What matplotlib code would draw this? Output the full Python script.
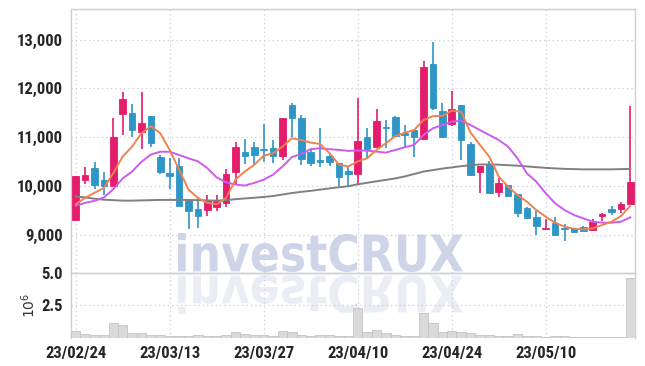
import numpy as np
import matplotlib
matplotlib.use("Agg")
import matplotlib.pyplot as plt
from matplotlib import font_manager
from matplotlib.textpath import TextPath
from matplotlib.patches import PathPatch
from matplotlib.font_manager import FontProperties
from matplotlib.transforms import Affine2D
from matplotlib.ticker import FuncFormatter

# trading days, 23/02/24 .. 23/05/23
dates = ["23/02/24", "23/02/27", "23/02/28", "23/03/02", "23/03/03", "23/03/06", "23/03/07",
         "23/03/08", "23/03/09", "23/03/10", "23/03/13", "23/03/14", "23/03/15", "23/03/16",
         "23/03/17", "23/03/20", "23/03/21", "23/03/22", "23/03/23", "23/03/24", "23/03/27",
         "23/03/28", "23/03/29", "23/03/30", "23/03/31", "23/04/03", "23/04/04", "23/04/05",
         "23/04/06", "23/04/07", "23/04/10", "23/04/11", "23/04/12", "23/04/13", "23/04/14",
         "23/04/17", "23/04/18", "23/04/19", "23/04/20", "23/04/21", "23/04/24", "23/04/25",
         "23/04/26", "23/04/27", "23/04/28", "23/05/02", "23/05/03", "23/05/04", "23/05/08",
         "23/05/09", "23/05/10", "23/05/11", "23/05/12", "23/05/15", "23/05/16", "23/05/17",
         "23/05/18", "23/05/19", "23/05/22", "23/05/23"]

opens = [9300, 10120, 10380, 10130, 10010, 11470, 11500, 11100, 11430, 10600,
         10270, 10420, 9710, 9530, 9510, 9580, 9660, 10300, 10690, 10810,
         10770, 10780, 10610, 11660, 11390, 10710, 10540, 10620, 10470, 10320,
         10240, 11000, 10810, 11210, 11410, 11080, 11150, 10960, 12500, 11540,
         11265, 11660, 10860, 10300, 10460, 9890, 10025, 9840, 9550, 9370,
         9125, 9240, 9150, 9150, 9165, 9105, 9400, 9525, 9535, 9630]
closes = [10200, 10230, 10030, 10010, 11000, 11790, 11140, 11300, 10880, 10285,
          10200, 9595, 9495, 9390, 9695, 9690, 10240, 10810, 10610, 10640,
          10750, 10610, 11390, 11390, 10560, 10470, 10490, 10490, 10190, 10260,
          10925, 10770, 11340, 11200, 11030, 11050, 11000, 12440, 11590, 11010,
          11575, 10940, 10230, 10415, 9855, 10070, 9800, 9460, 9345, 9185,
          9155, 9000, 9125, 9070, 9090, 9275, 9435, 9480, 9635, 10085]
highs = [10210, 10390, 10500, 10300, 11390, 11930, 11690, 11930, 11430, 10640,
         10570, 10575, 9710, 9785, 9830, 9830, 10350, 10910, 10960, 10910,
         11270, 10950, 11390, 11700, 11450, 10780, 11200, 10660, 10470, 10400,
         11795, 11200, 11570, 11350, 11435, 11250, 11150, 12570, 12960, 11710,
         11950, 11660, 10900, 10415, 10520, 10170, 10025, 9840, 9565, 9500,
         9320, 9375, 9225, 9150, 9185, 9320, 9460, 9595, 9685, 11640]
lows = [9280, 10055, 9945, 9820, 10000, 11045, 11015, 10755, 10810, 10250,
        9945, 9595, 9135, 9155, 9390, 9490, 9580, 10055, 10460, 10440,
        10505, 10475, 10540, 11015, 10440, 10405, 10390, 10420, 10000, 10000,
        10055, 10575, 10810, 10775, 11000, 10775, 10605, 10960, 11560, 10980,
        11230, 10535, 10205, 9865, 9840, 9785, 9785, 9375, 9340, 9000,
        9115, 9000, 8880, 9068, 9090, 9090, 9295, 9410, 9460, 9630]
volumes = [490000, 260000, 160000, 160000, 1120000, 940000, 340000, 340000, 180000, 180000,
           100000, 100000, 80000, 160000, 80000, 80000, 160000, 390000, 260000, 180000,
           230000, 100000, 490000, 420000, 230000, 100000, 210000, 160000, 100000, 100000,
           2270000, 420000, 550000, 340000, 230000, 100000, 100000, 1880000, 1090000, 420000,
           470000, 420000, 340000, 160000, 160000, 80000, 80000, 260000, 100000, 80000,
           50000, 80000, 80000, 30000, 30000, 30000, 30000, 30000, 30000, 4600000]

ma5 = [9630, 9763, 9865, 9966, 10270, 10608, 10811, 11082, 11230, 11082,
       10740, 10340, 9930, 9760, 9660, 9630, 9763, 10135, 10304, 10439,
       10622, 10676, 10811, 10980, 10946, 10892, 10865, 10676, 10439, 10405,
       10507, 10572, 10742, 10878, 11027, 11095, 11150, 11354, 11435, 11435,
       11545, 11524, 11100, 10845, 10605, 10200, 9990, 9820, 9684, 9513,
       9376, 9254, 9172, 9131, 9117, 9138, 9206, 9274, 9390, 9595]
ma20 = [9600, 9660, 9700, 9770, 9940, 10160, 10300, 10500, 10650, 10705,
        10705, 10640, 10570, 10510, 10370, 10180, 10081, 10034, 10014, 10068,
        10135, 10237, 10405, 10595, 10662, 10757, 10777, 10757, 10743, 10723,
        10730, 10728, 10708, 10687, 10742, 10796, 10844, 11048, 11184, 11252,
        11320, 11340, 11252, 11150, 11047, 10945, 10809, 10570, 10263, 10092,
        9855, 9650, 9513, 9411, 9343, 9274, 9254, 9254, 9274, 9363]
ma60 = [9790, 9770, 9745, 9725, 9715, 9705, 9705, 9710, 9715, 9720,
        9720, 9720, 9720, 9715, 9710, 9705, 9715, 9735, 9750, 9765,
        9780, 9800, 9830, 9860, 9885, 9905, 9930, 9955, 9980, 10000,
        10040, 10070, 10100, 10130, 10160, 10200, 10250, 10300, 10330, 10360,
        10385, 10410, 10430, 10445, 10445, 10440, 10430, 10420, 10405, 10390,
        10375, 10365, 10355, 10350, 10345, 10345, 10345, 10345, 10350, 10355]

UP = "#e31c6b"
DOWN = "#2e95c7"
GRID = "#c9cbdb"
SPINE = "#cfcfd4"


def pick_tick_font():
    # look for a narrow face, the reference uses a condensed font
    fonts = font_manager.fontManager.ttflist
    names = {f.name for f in fonts}
    for name in ["Roboto Condensed", "Liberation Sans Narrow", "Open Sans Condensed"]:
        if name in names:
            return FontProperties(family=name, size=12, weight="bold")
    for f in fonts:
        if f.name == "DejaVu Sans" and f.stretch in ("condensed", "semi-condensed") \
                and f.weight in (400, "normal", "book"):
            return FontProperties(fname=f.fname, size=11)
    return FontProperties(family="DejaVu Sans", size=9.5)


def style_axes(ax, tick_font):
    for s in ax.spines.values():
        s.set_color(SPINE)
        s.set_linewidth(1.0)
    ax.grid(True, color=GRID, linestyle=(0, (1, 2.5)), linewidth=0.9)
    ax.set_axisbelow(True)
    ax.tick_params(length=0, labelcolor="#262626", pad=6)
    ax.set_facecolor("none")
    for lab in ax.get_xticklabels() + ax.get_yticklabels():
        lab.set_fontproperties(tick_font)


def main():
    W, H = 645, 366
    fig = plt.figure(figsize=(W / 100, H / 100), dpi=100)
    tick_font = pick_tick_font()

    x = np.arange(len(dates))
    o = np.array(opens)
    c = np.array(closes)
    up = c >= o
    colors = np.where(up, UP, DOWN)

    # price panel
    ax = fig.add_axes([71 / W, 1 - 273 / H, 564 / W, 264 / H])
    ax.vlines(x, lows, highs, colors=colors, linewidth=1.2, zorder=3)
    body = np.maximum(np.abs(c - o), 20)
    ax.bar(x, body, bottom=np.minimum(o, c), width=0.7, color=colors,
           edgecolor=colors, linewidth=0.6, zorder=4)
    ax.plot(x, ma60, color="#808080", linewidth=1.4, zorder=5)
    ax.plot(x, ma20, color="#cc5ced", linewidth=1.4, zorder=5)
    ax.plot(x, ma5, color="#ee8351", linewidth=1.4, zorder=6)

    ax.set_xlim(-0.5, len(dates) - 0.5)
    ax.set_ylim(8225, 13625)
    ax.set_yticks([9000, 10000, 11000, 12000, 13000])
    ax.yaxis.set_major_formatter(FuncFormatter(lambda v, p: f"{v:,.0f}"))
    ax.set_xticks(x[::10])
    ax.tick_params(axis="x", labelbottom=False)
    style_axes(ax, tick_font)

    # volume panel
    axv = fig.add_axes([71 / W, 1 - 337.5 / H, 564 / W, 64.5 / H], sharex=ax)
    axv.bar(x, np.array(volumes) / 1e6, width=1.0, color="#dadada",
            edgecolor="#c4c4c4", linewidth=0.6, zorder=3)
    axv.set_ylim(0, 5.0)
    axv.set_yticks([2.5, 5.0])
    axv.set_yticklabels(["2.5", "5.0"])
    axv.set_xticks(x[::10])
    axv.set_xticklabels(dates[::10])
    axv.set_ylabel(r"$10^{6}$", fontsize=10, color="#333333", labelpad=2)
    style_axes(axv, tick_font)
    axv.spines["bottom"].set_visible(False)

    # watermark with reflection
    tp = TextPath((0, 0), "investCRUX", size=50,
                  prop=FontProperties(family="DejaVu Sans", weight="bold"))
    ext = tp.get_extents()

    def place(x0, x1, yb, yt):
        sx = (x1 - x0) / ext.width
        sy = (yt - yb) / (ext.y1 - ext.y0)
        return Affine2D().translate(-ext.x0, -ext.y0).scale(sx, sy).translate(x0, yb)

    fig.add_artist(PathPatch(tp, transform=place(178, 463, H - 272, H - 233),
                             facecolor="#cfd5e8", edgecolor="none", zorder=-1))
    fig.add_artist(PathPatch(tp, transform=place(178, 463, H - 275, H - 314),
                             facecolor="#ebedf4", edgecolor="none", zorder=-1))

    fig.savefig("out.png", dpi=100, facecolor="white")


if __name__ == "__main__":
    main()
